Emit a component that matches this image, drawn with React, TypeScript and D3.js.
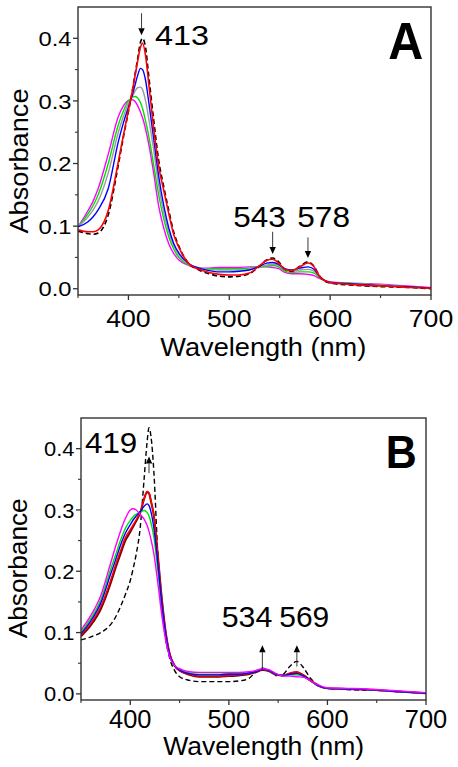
import React from "react";
import * as d3 from "d3";

// ---------- Panel A data ----------
const WL_A = [350, 360, 365, 370, 380, 390, 395, 400, 403, 406, 409, 412, 414, 417, 420, 425, 430, 435, 440, 445, 450, 460, 470, 480, 490, 500, 510, 520, 530, 537, 543, 549, 555, 562, 570, 578, 584, 590, 600, 620, 640, 660, 680, 700];
const A_DASH = [.092, .088, .087, .089, .118, .198, .242, .283, .308, .337, .366, .394, .400, .385, .342, .270, .205, .163, .125, .090, .068, .040, .030, .024, .020, .019, .020, .024, .036, .046, .049, .043, .031, .028, .036, .043, .036, .019, .009, .006, .004, .003, .002, .000];
const A_RED = [.094, .091, .091, .094, .125, .203, .245, .285, .308, .335, .362, .386, .392, .372, .330, .257, .196, .157, .120, .086, .066, .040, .031, .026, .023, .022, .022, .025, .037, .045, .047, .041, .031, .029, .035, .041, .035, .019, .010, .007, .005, .004, .002, .001];
const A_BLUE = [.099, .107, .115, .126, .160, .235, .265, .290, .305, .322, .340, .352, .350, .333, .300, .240, .180, .133, .097, .072, .057, .040, .033, .029, .027, .027, .028, .030, .036, .041, .042, .039, .032, .030, .033, .035, .031, .019, .010, .008, .006, .004, .003, .001];
const A_GRAY = [.099, .115, .126, .140, .185, .250, .275, .296, .304, .314, .321, .322, .318, .300, .273, .222, .165, .122, .090, .068, .054, .039, .033, .031, .030, .030, .030, .031, .035, .038, .039, .037, .030, .028, .030, .031, .028, .018, .010, .008, .007, .005, .003, .001];
const A_GREEN = [.099, .120, .133, .150, .200, .262, .284, .300, .305, .307, .305, .297, .288, .268, .245, .198, .150, .112, .083, .063, .050, .038, .033, .032, .032, .032, .032, .033, .035, .036, .037, .035, .028, .026, .027, .027, .025, .017, .010, .009, .007, .005, .003, .001];
const A_MAG = [.099, .125, .140, .160, .215, .275, .292, .301, .302, .300, .293, .282, .273, .255, .232, .185, .132, .097, .072, .056, .046, .037, .033, .033, .034, .034, .034, .035, .035, .035, .034, .032, .026, .024, .024, .023, .021, .016, .011, .009, .008, .006, .004, .002];

// ---------- Panel B data ----------
const WL_B = [350, 360, 370, 380, 385, 390, 395, 400, 403, 406, 410, 414, 417, 419, 421, 424, 428, 432, 436, 440, 445, 450, 460, 470, 480, 490, 500, 510, 520, 527, 534, 541, 548, 555, 562, 569, 576, 583, 590, 600, 620, 640, 660, 680, 700];
const B_DASH = [.088, .093, .100, .113, .125, .142, .162, .185, .205, .228, .270, .350, .410, .434, .420, .360, .225, .140, .088, .058, .038, .028, .022, .020, .020, .020, .020, .021, .025, .035, .042, .038, .030, .032, .045, .053, .042, .025, .015, .009, .007, .006, .005, .003, .001];
const B_MAROON = [.094, .112, .138, .180, .205, .228, .250, .264, .273, .282, .295, .318, .329, .327, .314, .290, .225, .155, .100, .065, .046, .038, .031, .028, .028, .028, .029, .030, .032, .035, .039, .037, .031, .030, .033, .035, .030, .022, .014, .009, .008, .007, .005, .003, .001];
const B_RED = [.096, .115, .142, .185, .210, .233, .255, .268, .276, .284, .296, .318, .330, .328, .315, .290, .225, .155, .100, .065, .046, .038, .032, .029, .029, .029, .030, .031, .033, .036, .040, .038, .032, .030, .034, .036, .030, .022, .014, .009, .008, .007, .005, .003, .001];
const B_BLUE = [.098, .119, .148, .195, .218, .242, .262, .276, .284, .290, .297, .306, .310, .307, .297, .270, .212, .147, .096, .063, .046, .039, .033, .031, .031, .031, .032, .032, .034, .036, .040, .038, .032, .030, .032, .033, .029, .021, .014, .009, .008, .007, .005, .003, .001];
const B_GREEN = [.101, .123, .153, .203, .226, .250, .270, .283, .289, .293, .297, .299, .296, .290, .279, .255, .200, .140, .092, .062, .046, .040, .034, .032, .032, .032, .033, .033, .034, .037, .040, .038, .032, .030, .031, .031, .028, .021, .014, .009, .008, .007, .005, .003, .001];
const B_MAG = [.1045, .128, .160, .213, .240, .265, .286, .300, .302, .300, .293, .285, .275, .265, .252, .228, .180, .128, .087, .060, .046, .041, .036, .035, .035, .035, .035, .035, .036, .038, .041, .039, .033, .029, .029, .028, .027, .021, .015, .010, .009, .008, .006, .004, .002];

// ---------- ticks / annotations ----------
const X_MAJOR = [400, 500, 600, 700];
const X_MINOR = [350, 450, 550, 650];
const Y_MAJOR = [0, 0.1, 0.2, 0.3, 0.4];
const Y_MINOR = [0.05, 0.15, 0.25, 0.35];
const Y_LABELS = ["0.0", "0.1", "0.2", "0.3", "0.4"];

type Series = { values: number[]; color: string; dash?: string; width?: number };

const SERIES_A: Series[] = [
  { values: A_MAG, color: "#ff00ff" },
  { values: A_GREEN, color: "#00e000" },
  { values: A_GRAY, color: "#9a9a9a" },
  { values: A_BLUE, color: "#0000ff" },
  { values: A_DASH, color: "#000000", dash: "5,3", width: 1.6 },
  { values: A_RED, color: "#ff0000", width: 1.6 },
];
const SERIES_B: Series[] = [
  { values: B_DASH, color: "#000000", dash: "5,3", width: 1.4 },
  { values: B_MAROON, color: "#7a0000", width: 2 },
  { values: B_RED, color: "#ff0000" },
  { values: B_GREEN, color: "#00e000" },
  { values: B_BLUE, color: "#0000ff" },
  { values: B_MAG, color: "#ff00ff" },
];

// annotation: wavelength, arrow start/end absorbance, label
const ANN_A = [
  { wl: 413, from: 0.44, to: 0.405, dir: "down" },
  { wl: 543, from: 0.091, to: 0.0555, dir: "down" },
  { wl: 578, from: 0.082, to: 0.049, dir: "down" },
];
const ANN_B = [
  { wl: 419, from: 0.36, to: 0.387, dir: "up" },
  { wl: 534, from: 0.0375, to: 0.0795, dir: "up" },
  { wl: 569, from: 0.0445, to: 0.0795, dir: "up" },
];

const FONT = "'Liberation Sans', Arial, Helvetica, sans-serif";

type TextSpec = { t: string; x: number; y: number; size: number; len: number; bold?: boolean; anchor?: string };

type PanelProps = {
  id: string;
  wl: number[];
  series: Series[];
  left: number; right: number; top: number; bottom: number;
  ann: { wl: number; from: number; to: number; dir: string }[];
  yLabelLen: number;
  xTickBase: number; xTickLen: number; xTickSize: number;
  xTitle: { x: number; y: number; len: number; size: number };
  yTitle: { x: number; y: number; len: number; size: number };
  texts: TextSpec[];
};

function Panel(p: PanelProps) {
  const x = d3.scaleLinear().domain([350, 700]).range([p.left, p.right]);
  const y = d3.scaleLinear().domain([-0.01, 0.45]).range([p.bottom, p.top]);
  const line = d3
    .line<number>()
    .x((_, i) => x(p.wl[i]))
    .y((d) => y(d))
    .curve(d3.curveMonotoneX);
  const axisColor = "#333";
  return (
    <g>
      <defs>
        <clipPath id={"clip" + p.id}>
          <rect x={p.left} y={p.top} width={p.right - p.left} height={p.bottom - p.top} />
        </clipPath>
      </defs>
      <g clipPath={`url(#clip${p.id})`}>
        {p.series.map((s, i) => (
          <path key={i} d={line(s.values) || ""} fill="none" stroke={s.color} strokeWidth={s.width ?? 1.4} strokeDasharray={s.dash} />
        ))}
      </g>
      <rect x={p.left} y={p.top} width={p.right - p.left} height={p.bottom - p.top} fill="none" stroke={axisColor} strokeWidth={1.4} />
      {X_MAJOR.map((v) => (
        <line key={"xm" + v} x1={x(v)} x2={x(v)} y1={p.bottom} y2={p.bottom + 5} stroke={axisColor} strokeWidth={1.3} />
      ))}
      {X_MINOR.map((v) => (
        <line key={"xn" + v} x1={x(v)} x2={x(v)} y1={p.bottom} y2={p.bottom + 3} stroke={axisColor} strokeWidth={1.1} />
      ))}
      {Y_MAJOR.map((v) => (
        <line key={"ym" + v} x1={p.left - 5} x2={p.left} y1={y(v)} y2={y(v)} stroke={axisColor} strokeWidth={1.3} />
      ))}
      {Y_MINOR.map((v) => (
        <line key={"yn" + v} x1={p.left - 3} x2={p.left} y1={y(v)} y2={y(v)} stroke={axisColor} strokeWidth={1.1} />
      ))}
      {Y_MAJOR.map((v, i) => (
        <text key={"yl" + v} x={p.left - 6.5} y={y(v) + 7.6} fontSize={21} fontFamily={FONT} textAnchor="end" textLength={p.yLabelLen} lengthAdjust="spacingAndGlyphs">
          {Y_LABELS[i]}
        </text>
      ))}
      {X_MAJOR.map((v) => (
        <text key={"xl" + v} x={x(v) - p.xTickLen / 2} y={p.xTickBase} fontSize={p.xTickSize} fontFamily={FONT} textLength={p.xTickLen} lengthAdjust="spacingAndGlyphs">
          {String(v)}
        </text>
      ))}
      <text x={p.xTitle.x - p.xTitle.len / 2} y={p.xTitle.y} fontSize={p.xTitle.size} fontFamily={FONT} textLength={p.xTitle.len} lengthAdjust="spacingAndGlyphs">
        Wavelength (nm)
      </text>
      <text
        transform={`translate(${p.yTitle.x},${p.yTitle.y}) rotate(-90)`}
        x={-p.yTitle.len / 2}
        y={0}
        fontSize={p.yTitle.size}
        fontFamily={FONT}
        textLength={p.yTitle.len}
        lengthAdjust="spacingAndGlyphs"
      >
        Absorbance
      </text>
      {p.ann.map((a, i) => {
        const ax = x(a.wl);
        const y1 = y(a.from);
        const y2 = y(a.to);
        const sgn = y2 > y1 ? -1 : 1;
        const hl = 7;
        return (
          <g key={"an" + i}>
            <line x1={ax} x2={ax} y1={y1} y2={y2 + sgn * hl} stroke="#222" strokeWidth={0.9} />
            <path d={`M${ax},${y2} L${ax - 3.2},${y2 + sgn * hl} L${ax + 3.2},${y2 + sgn * hl} Z`} fill="#000" />
          </g>
        );
      })}
      {p.texts.map((t, i) => (
        <text key={"tx" + i} x={t.x} y={t.y} fontSize={t.size} fontWeight={t.bold ? "bold" : "normal"} fontFamily={FONT} textLength={t.len} lengthAdjust="spacingAndGlyphs">
          {t.t}
        </text>
      ))}
    </g>
  );
}

export default function App() {
  return (
    <svg width={458} height={767} style={{ position: "absolute", left: 0, top: 0, background: "#fff" }}>
      <rect x={0} y={0} width={458} height={767} fill="#fff" />
      <Panel
        id="A"
        wl={WL_A}
        series={SERIES_A}
        left={78} right={431} top={7} bottom={295}
        ann={ANN_A}
        yLabelLen={33}
        xTickBase={326.7} xTickLen={44.5} xTickSize={23}
        xTitle={{ x: 263.3, y: 356, len: 206, size: 25 }}
        yTitle={{ x: 28, y: 161, len: 145, size: 26 }}
        texts={[
          { t: "413", x: 155, y: 45, size: 28, len: 54 },
          { t: "543", x: 233.3, y: 226.7, size: 30, len: 52.4 },
          { t: "578", x: 297.3, y: 226.7, size: 30, len: 52.7 },
          { t: "A", x: 388.3, y: 59.3, size: 51, len: 35, bold: true },
        ]}
      />
      <Panel
        id="B"
        wl={WL_B}
        series={SERIES_B}
        left={81} right={426} top={418} bottom={700}
        ann={ANN_B}
        yLabelLen={30.5}
        xTickBase={728.3} xTickLen={42.5} xTickSize={25}
        xTitle={{ x: 263.7, y: 755, len: 201, size: 25.5 }}
        yTitle={{ x: 26.5, y: 568.3, len: 140, size: 26 }}
        texts={[
          { t: "419", x: 85, y: 453.3, size: 30, len: 52.3 },
          { t: "534", x: 221.7, y: 626.7, size: 30, len: 50.6 },
          { t: "569", x: 279.3, y: 626.7, size: 30, len: 50 },
          { t: "B", x: 385.7, y: 468.3, size: 46, len: 31, bold: true },
        ]}
      />
    </svg>
  );
}
